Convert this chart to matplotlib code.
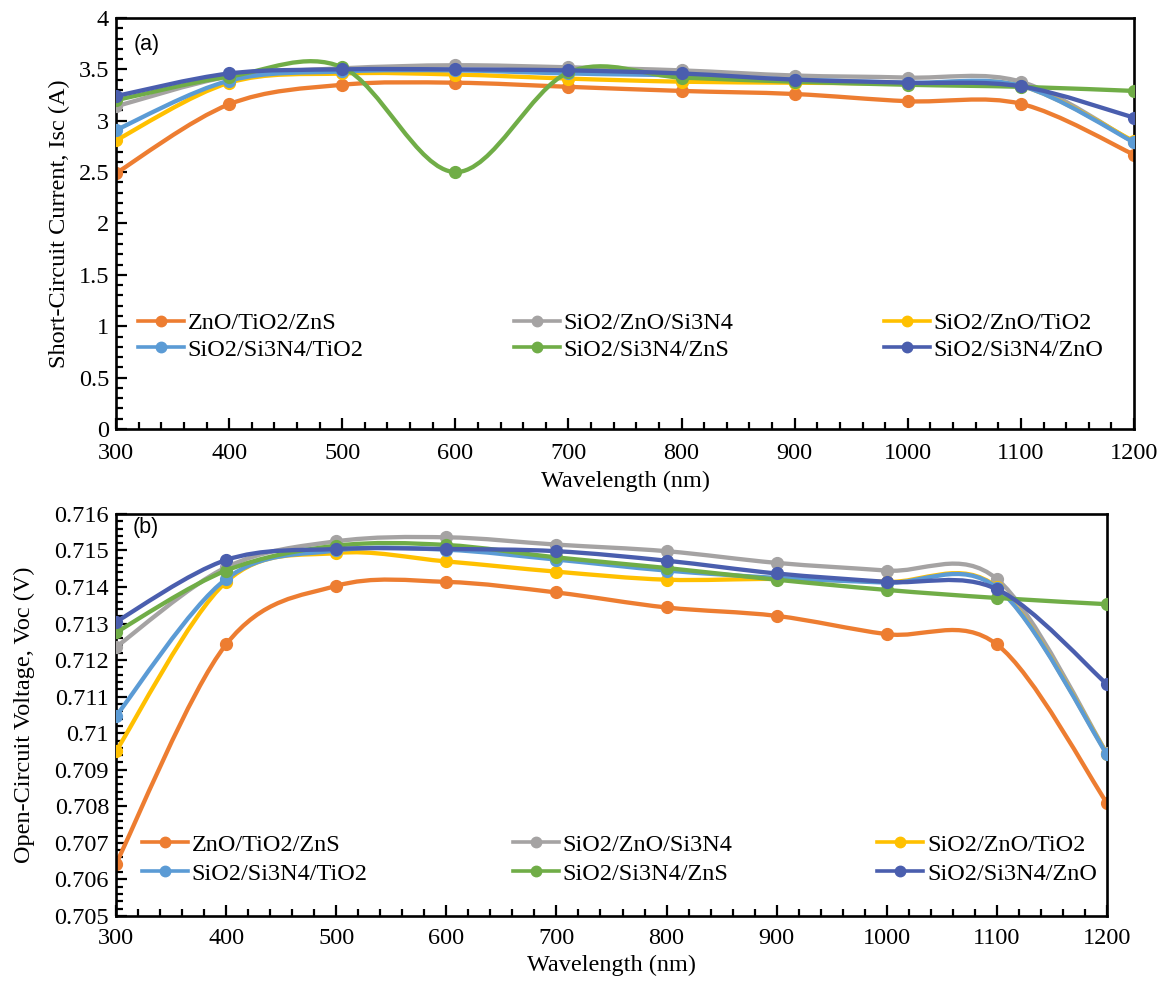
import numpy as np
import matplotlib
matplotlib.use("Agg")
import matplotlib.pyplot as plt
from matplotlib.path import Path
from matplotlib.patches import PathPatch
from matplotlib.lines import Line2D
from matplotlib.ticker import MultipleLocator, FuncFormatter

# wavelength points (nm)
wavelength = [300, 400, 500, 600, 700, 800, 900, 1000, 1100, 1200]

series_names = ["ZnO/TiO2/ZnS", "SiO2/ZnO/Si3N4", "SiO2/ZnO/TiO2",
                "SiO2/Si3N4/TiO2", "SiO2/Si3N4/ZnS", "SiO2/Si3N4/ZnO"]
series_colors = ["#ED7D31", "#A5A3A3", "#FFC000", "#5B9BD5", "#70AD47", "#4A5EAE"]

# (a) short-circuit current, Isc (A)
isc_zno_tio2_zns = [2.49, 3.16, 3.35, 3.37, 3.33, 3.29, 3.26, 3.19, 3.165, 2.67]
isc_sio2_zno_si3n4 = [3.14, 3.43, 3.51, 3.54, 3.52, 3.49, 3.44, 3.42, 3.38, 2.79]
isc_sio2_zno_tio2 = [2.81, 3.37, 3.46, 3.45, 3.41, 3.38, 3.37, 3.36, 3.34, 2.80]
isc_sio2_si3n4_tio2 = [2.91, 3.39, 3.48, 3.49, 3.46, 3.44, 3.40, 3.37, 3.34, 2.79]
isc_sio2_si3n4_zns = [3.20, 3.43, 3.52, 2.50, 3.47, 3.42, 3.38, 3.35, 3.33, 3.29]
isc_sio2_si3n4_zno = [3.24, 3.46, 3.50, 3.50, 3.49, 3.46, 3.40, 3.37, 3.335, 3.03]

# (b) open-circuit voltage, Voc (V)
voc_zno_tio2_zns = [0.70643, 0.71243, 0.71403, 0.71414, 0.71385, 0.71344, 0.71321, 0.71271, 0.71243, 0.70809]
voc_sio2_zno_si3n4 = [0.71236, 0.71454, 0.71525, 0.71536, 0.71516, 0.71498, 0.71466, 0.71445, 0.71422, 0.70945]
voc_sio2_zno_tio2 = [0.70951, 0.71414, 0.71493, 0.71470, 0.71442, 0.71420, 0.71422, 0.71414, 0.71400, 0.70944]
voc_sio2_si3n4_tio2 = [0.71047, 0.71422, 0.71500, 0.71502, 0.71475, 0.71445, 0.71425, 0.71412, 0.71398, 0.70942]
voc_sio2_si3n4_zns = [0.71276, 0.71445, 0.71513, 0.71515, 0.71481, 0.71452, 0.71420, 0.71392, 0.71370, 0.71353]
voc_sio2_si3n4_zno = [0.71305, 0.71474, 0.71504, 0.71504, 0.71498, 0.71472, 0.71437, 0.71414, 0.71394, 0.71134]

isc_data = [isc_zno_tio2_zns, isc_sio2_zno_si3n4, isc_sio2_zno_tio2,
            isc_sio2_si3n4_tio2, isc_sio2_si3n4_zns, isc_sio2_si3n4_zno]
voc_data = [voc_zno_tio2_zns, voc_sio2_zno_si3n4, voc_sio2_zno_tio2,
            voc_sio2_si3n4_tio2, voc_sio2_si3n4_zns, voc_sio2_si3n4_zno]

plt.rcParams['font.family'] = ['Liberation Serif', 'DejaVu Serif']
FS = 17.5


def smooth_path(x, y):
    # excel-like smoothed line: bezier segments with catmull-rom control points
    n = len(x)
    pts = list(zip(x, y))
    verts = [pts[0]]
    codes = [Path.MOVETO]
    for i in range(n - 1):
        p0 = pts[max(i - 1, 0)]
        p1 = pts[i]
        p2 = pts[i + 1]
        p3 = pts[min(i + 2, n - 1)]
        c1 = (p1[0] + (p2[0] - p0[0]) / 6, p1[1] + (p2[1] - p0[1]) / 6)
        c2 = (p2[0] - (p3[0] - p1[0]) / 6, p2[1] - (p3[1] - p1[1]) / 6)
        verts += [c1, c2, p2]
        codes += [Path.CURVE4] * 3
    return Path(verts, codes)


def draw_panel(ax, data, ylim, ymajor, yminor, ylabel, ylabelpad, xpad, xlabelpad,
               tag, tag_y, leg_box, leg_spacing):
    for k, (vals, col) in enumerate(zip(data, series_colors)):
        patch = PathPatch(smooth_path(wavelength, vals), facecolor='none',
                          edgecolor=col, lw=3.1, capstyle='round',
                          joinstyle='round', zorder=2 + k)
        ax.add_patch(patch)
        ax.plot(wavelength, vals, 'o', color=col, ms=8.5, zorder=2 + k)

    ax.set_xlim(300, 1200)
    ax.set_ylim(*ylim)
    ax.xaxis.set_major_locator(MultipleLocator(100))
    ax.xaxis.set_minor_locator(MultipleLocator(20))
    ax.yaxis.set_major_locator(MultipleLocator(ymajor))
    ax.yaxis.set_minor_locator(MultipleLocator(yminor))
    ax.yaxis.set_major_formatter(FuncFormatter(lambda v, p: f"{round(v, 5):g}"))
    ax.tick_params(which='both', direction='in', top=False, right=False,
                   labelsize=FS, width=1.6)
    ax.tick_params(axis='x', which='both', pad=xpad)
    ax.tick_params(axis='y', which='both', pad=5)
    ax.tick_params(which='major', length=8)
    ax.tick_params(which='minor', length=5)
    for s in ax.spines.values():
        s.set_linewidth(1.9)
    ax.set_xlabel("Wavelength (nm)", fontsize=FS, labelpad=xlabelpad)
    ax.set_ylabel(ylabel, fontsize=FS, labelpad=ylabelpad)
    ax.text(0.017, tag_y, tag, transform=ax.transAxes, fontsize=15.5,
            family='Liberation Sans', va='center', ha='left')

    handles = [Line2D([], [], color=c, lw=2.6, marker='o', ms=7.5) for c in series_colors]
    order = [0, 3, 1, 4, 2, 5]
    ax.legend([handles[i] for i in order], [series_names[i] for i in order],
              ncol=3, loc='center', bbox_to_anchor=leg_box, mode='expand',
              frameon=False, fontsize=FS, borderpad=0, borderaxespad=0,
              handlelength=1.9, handletextpad=0.15, labelspacing=leg_spacing)


fig = plt.figure(figsize=(11.65, 9.83), dpi=100)
ax1 = fig.add_axes([0.0996, 0.5636, 0.8738, 0.4181])
ax2 = fig.add_axes([0.0996, 0.0682, 0.8506, 0.4090])

draw_panel(ax1, isc_data, (0, 4), 0.5, 0.1, "Short-Circuit Current, Isc (A)", 6, 10, 5,
           "(a)", 0.936, (0.0216, 0.225 - 0.06, 0.9485, 0.12), 0.2)
draw_panel(ax2, voc_data, (0.705, 0.716), 0.001, 0.0002, "Open-Circuit Voltage, Voc (V)", 14, 9, 4,
           "(b)", 0.965, (0.0262, 0.141 - 0.06, 0.9637, 0.12), 0.3)

fig.savefig("out.png", dpi=100)
